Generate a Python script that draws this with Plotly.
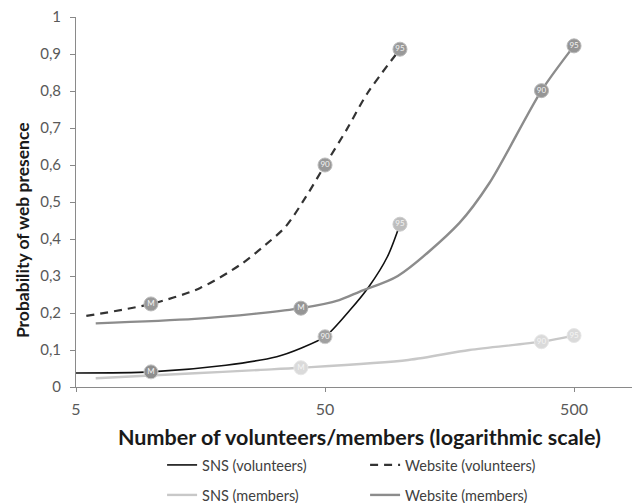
import plotly.graph_objects as go
import math

# ---- data ----
sns_vol_x = [5, 10, 20, 32, 40, 50, 63, 75, 89, 100]
sns_vol_y = [0.038, 0.041, 0.059, 0.082, 0.105, 0.136, 0.208, 0.271, 0.352, 0.44]

web_vol_x = [5.5, 10, 15.7, 22.8, 28.8, 34.8, 42, 50, 61, 74, 100]
web_vol_y = [0.192, 0.2245, 0.267, 0.33, 0.384, 0.434, 0.515, 0.6, 0.695, 0.794, 0.913]

sns_mem_x = [6, 15, 27, 40, 108, 190, 370, 500]
sns_mem_y = [0.0235, 0.037, 0.046, 0.052, 0.073, 0.100, 0.1225, 0.139]

web_mem_x = [6, 15, 27, 40, 57, 69, 98, 173, 229, 370, 500]
web_mem_y = [0.172, 0.184, 0.199, 0.213, 0.235, 0.258, 0.300, 0.443, 0.552, 0.801, 0.922]

marker_labels = ["M", "90", "95"]
sns_vol_mx = [10, 50, 100]
sns_vol_my = [0.041, 0.136, 0.44]
web_vol_mx = [10, 50, 100]
web_vol_my = [0.2245, 0.6, 0.913]
sns_mem_mx = [40, 370, 500]
sns_mem_my = [0.052, 0.1225, 0.139]
web_mem_mx = [40, 370, 500]
web_mem_my = [0.213, 0.801, 0.922]

y_tickvals = [0, 0.1, 0.2, 0.3, 0.4, 0.5, 0.6, 0.7, 0.8, 0.9, 1]
y_ticktext = ["0", "0,1", "0,2", "0,3", "0,4", "0,5", "0,6", "0,7", "0,8", "0,9", "1"]
x_tickvals = [5, 50, 500]
x_ticktext = ["5", "50", "500"]

x_title = "Number of volunteers/members (logarithmic scale)"
y_title = "Probability of web presence"

FONT = "Lato"
fig = go.Figure()

def line(x, y, name, color, width, dash, legend):
    fig.add_trace(go.Scatter(x=x, y=y, mode="lines", name=name,
                             line=dict(color=color, width=width, dash=dash, shape="spline", smoothing=0.8),
                             legend=legend, hoverinfo="skip"))

line(sns_vol_x, sns_vol_y, "SNS (volunteers)", "#111111", 1.6, "solid", "legend")
line(web_vol_x, web_vol_y, "Website (volunteers)", "#333333", 2.2, "8px,6px", "legend")
line(sns_mem_x, sns_mem_y, "SNS (members)", "#c8c8c8", 2.4, "solid", "legend2")
line(web_mem_x, web_mem_y, "Website (members)", "#8c8c8c", 2.4, "solid", "legend2")

def marks(x, y, fill, edge):
    fig.add_trace(go.Scatter(x=x, y=y, mode="markers+text", text=marker_labels,
                             textposition="middle center",
                             textfont=dict(family=FONT, size=8, color="#f4f4f4"),
                             marker=dict(size=14, color=fill, line=dict(color=edge, width=1)),
                             showlegend=False, hoverinfo="skip"))

marks(sns_vol_mx, sns_vol_my, ["#8e8e8e", "#a0a0a0", "#bdbdbd"], "#cccccc")
marks(web_vol_mx, web_vol_my, "#999999", "#bbbbbb")
marks(sns_mem_mx, sns_mem_my, "#dadada", "#e6e6e6")
marks(web_mem_mx, web_mem_my, "#959595", "#b5b5b5")

leg_font = dict(family=FONT, size=14.5, color="#404040")
fig.update_layout(
    width=640, height=503,
    margin=dict(l=68, r=0, t=9, b=124),
    paper_bgcolor="white", plot_bgcolor="white",
    font=dict(family=FONT, size=13, color="#595959"),
    legend=dict(orientation="h", x=0.1505, xanchor="left", y=-0.2108, yanchor="middle",
                entrywidth=158, entrywidthmode="pixels",
                font=leg_font, bgcolor="rgba(0,0,0,0)", itemwidth=30),
    legend2=dict(orientation="h", x=0.1505, xanchor="left", y=-0.2919, yanchor="middle",
                 entrywidth=158, entrywidthmode="pixels",
                 font=leg_font, bgcolor="rgba(0,0,0,0)", itemwidth=30),
    annotations=[
        dict(text="<b>" + x_title + "</b>", xref="paper", yref="paper", x=0.4965, y=-0.135,
             xanchor="center", yanchor="middle", showarrow=False,
             font=dict(family=FONT, size=21.5, color="#1a1a1a")),
        dict(text="<b>" + y_title + "</b>", xref="paper", yref="paper", x=-0.0944, y=0.424,
             xanchor="center", yanchor="middle", showarrow=False, textangle=-90,
             font=dict(family=FONT, size=17.5, color="#1a1a1a")),
    ],
)

fig.update_xaxes(type="log", range=[math.log10(5), 2.996], automargin=False,
                 tickvals=x_tickvals, ticktext=x_ticktext,
                 ticks="outside", ticklen=4, tickcolor="#888888", ticklabelstandoff=4,
                 ticklabeloverflow="allow",
                 showgrid=False, zeroline=False,
                 showline=True, linecolor="#8a8a8a", linewidth=1,
                 tickfont=dict(family=FONT, size=16, color="#595959"))

fig.update_yaxes(range=[0, 1], tickvals=y_tickvals, ticktext=y_ticktext, automargin=False,
                 ticks="outside", ticklen=5, tickcolor="#888888", ticklabelstandoff=6,
                 ticklabeloverflow="allow",
                 showgrid=False, zeroline=False,
                 showline=True, linecolor="#8a8a8a", linewidth=1,
                 tickfont=dict(family=FONT, size=15, color="#595959"))

fig.write_html("out.html")
